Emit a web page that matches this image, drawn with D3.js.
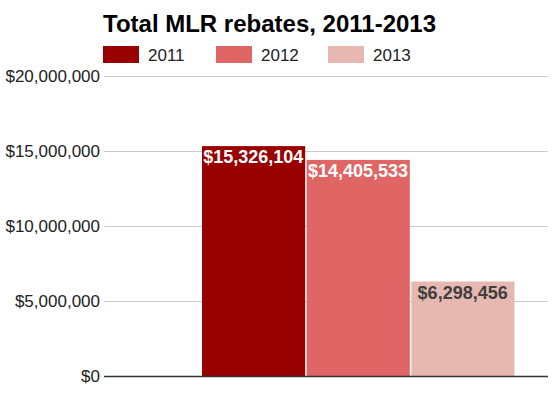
<!DOCTYPE html>
<html>
<head>
<meta charset="utf-8">
<script src="https://cdn.jsdelivr.net/npm/d3@7"></script>
<style>
body { margin: 0; background: #fff; }
text { font-family: "Liberation Sans", Arial, sans-serif; }
</style>
</head>
<body>
<div id="chart"></div>
<script>
// data
var years = ["2011", "2012", "2013"];
var rebates = [15326104, 14405533, 6298456];
var colors = ["#990000", "#e06666", "#e6b8af"];
var labelColors = ["#ffffff", "#ffffff", "#404040"];
var yTicks = [0, 5000000, 10000000, 15000000, 20000000];

var width = 553, height = 399;
var plot = {left: 104, right: 548, top: 76, bottom: 376};

var svg = d3.select("#chart")
  .append("svg")
  .attr("width", width)
  .attr("height", height);

// title
svg.append("text")
  .attr("x", 103)
  .attr("y", 32)
  .attr("font-size", "24px")
  .attr("font-weight", "bold")
  .attr("fill", "#000")
  .text("Total MLR rebates, 2011-2013");

// legend
var legendX = d3.scaleOrdinal().domain(years).range([103, 216, 328]);
var legend = svg.selectAll(".legend")
  .data(years)
  .enter()
  .append("g")
  .attr("transform", d => "translate(" + legendX(d) + ",46)");
legend.append("rect")
  .attr("width", 36)
  .attr("height", 17)
  .attr("fill", (d, i) => colors[i]);
legend.append("text")
  .attr("x", 45)
  .attr("y", 14.5)
  .attr("font-size", "17px")
  .attr("fill", "#222")
  .text(d => d);

var y = d3.scaleLinear().domain([0, 20000000]).range([plot.bottom, plot.top]);
var x = d3.scaleBand().domain(years).range([202, 516]).paddingInner(0.0);

// gridlines
svg.selectAll(".grid")
  .data(yTicks.filter(d => d > 0))
  .enter()
  .append("line")
  .attr("x1", plot.left)
  .attr("x2", plot.right)
  .attr("y1", d => y(d) + 0.5)
  .attr("y2", d => y(d) + 0.5)
  .attr("stroke", "#cccccc")
  .attr("stroke-width", 1);

// y axis labels
var fmt = d3.format("$,");
svg.selectAll(".ylab")
  .data(yTicks)
  .enter()
  .append("text")
  .attr("x", plot.left - 4)
  .attr("y", d => y(d) + 6)
  .attr("text-anchor", "end")
  .attr("font-size", "17px")
  .attr("fill", "#222")
  .text(d => fmt(d));

// bars
svg.selectAll(".bar")
  .data(rebates)
  .enter()
  .append("rect")
  .attr("x", (d, i) => x(years[i]))
  .attr("y", d => y(d))
  .attr("width", x.bandwidth() - 1.5)
  .attr("height", d => y(0) - y(d))
  .attr("fill", (d, i) => colors[i]);

// bar labels
svg.selectAll(".barlab")
  .data(rebates)
  .enter()
  .append("text")
  .attr("x", (d, i) => x(years[i]) + x.bandwidth() / 2 - 1)
  .attr("y", d => y(d) + 17)
  .attr("text-anchor", "middle")
  .attr("font-size", "18px")
  .attr("font-weight", "bold")
  .attr("fill", (d, i) => labelColors[i])
  .text(d => fmt(d));

// baseline
svg.append("line")
  .attr("x1", plot.left)
  .attr("x2", plot.right)
  .attr("y1", y(0) + 0.5)
  .attr("y2", y(0) + 0.5)
  .attr("stroke", "#333")
  .attr("stroke-width", 1.5);
</script>
</body>
</html>
